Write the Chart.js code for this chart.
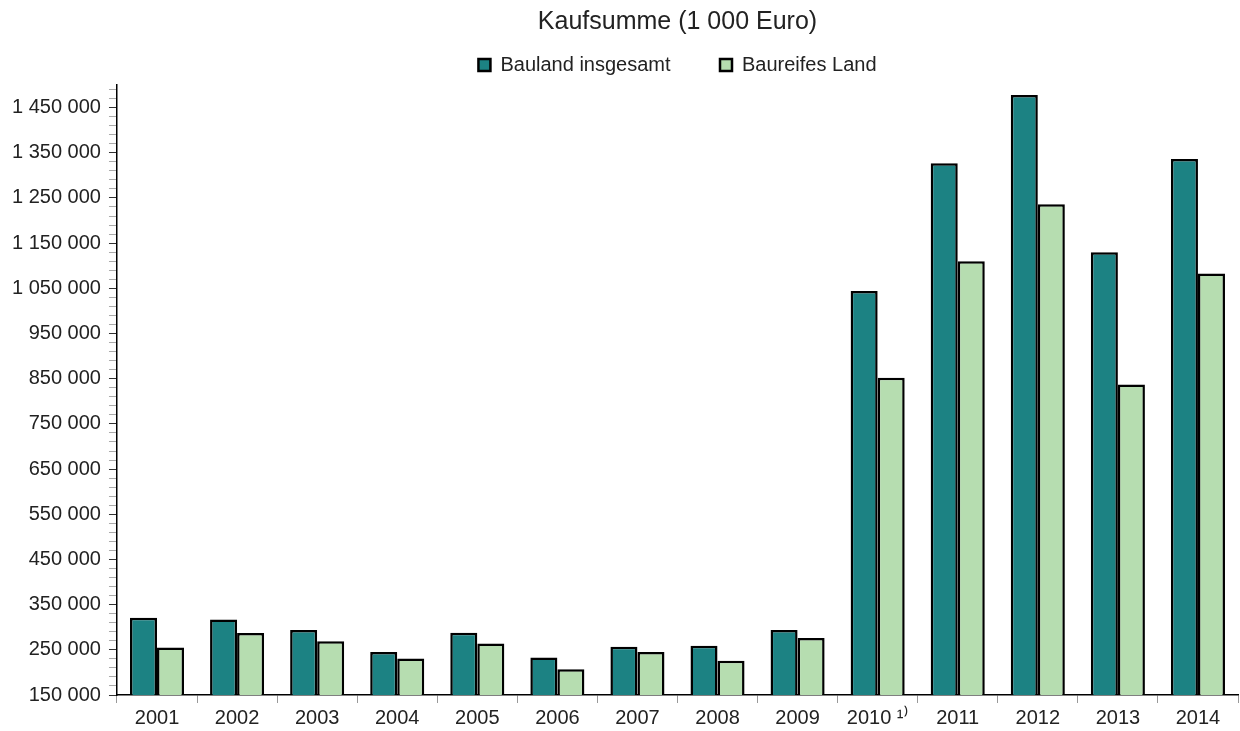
<!DOCTYPE html>
<html>
<head>
<meta charset="utf-8">
<script src="https://cdn.jsdelivr.net/npm/chart.js@4"></script>
<style>
  body { margin: 0; background: #fff; }
  #wrap { width: 1240px; height: 731px; position: relative; }
</style>
</head>
<body>
<div id="wrap"><canvas id="chart"></canvas></div>
<script>
// data (1 000 Euro)
const years = ["2001", "2002", "2003", "2004", "2005", "2006", "2007", "2008", "2009", "2010 \u00B9\u207E", "2011", "2012", "2013", "2014"];
const baulandInsgesamt = [321000, 317000, 294000, 245000, 288000, 233000, 257000, 259000, 294000, 1044000, 1327000, 1478000, 1130000, 1336000];
const baureifesLand = [255000, 287000, 269000, 231000, 264000, 207000, 245000, 226000, 276000, 852000, 1110000, 1236000, 837000, 1083000];
const yMin = 150000;
const yMax = 1500000;
const minorStep = 20000;
const majorStep = 100000;

const font = "'Liberation Sans', Arial, sans-serif";

// space between thousands, like "1 450 000"
function fmt(v) {
  return String(v).replace(/\B(?=(\d{3})+(?!\d))/g, " ");
}

function isMajor(v) {
  return (v - yMin) % majorStep === 0;
}

const data = {
  labels: years,
  datasets: [
    {
      label: "Bauland insgesamt",
      data: baulandInsgesamt,
      backgroundColor: "#1c8283",
      borderColor: "#000",
      borderWidth: 2.5,
      borderSkipped: false,
    },
    {
      label: "Baureifes Land",
      data: baureifesLand,
      backgroundColor: "#b6ddb0",
      borderColor: "#000",
      borderWidth: 2.5,
      borderSkipped: false,
    },
  ],
};

const chartConfig = {
  type: "bar",
  data: data,
  options: {
    responsive: true,
    maintainAspectRatio: false,
    animation: false,
    layout: { padding: { top: 0, right: 2, left: 4, bottom: -2 } },
    datasets: {
      bar: { categoryPercentage: 0.675, barPercentage: 1.0 },
    },
    plugins: {
      title: {
        display: true,
        text: "Kaufsumme (1 000 Euro)",
        color: "#222",
        fullSize: false,
        font: { family: font, size: 25, weight: "normal" },
        padding: { top: 7, bottom: 13 },
      },
      legend: {
        position: "top",
        fullSize: false,
        labels: {
          color: "#222",
          font: { family: font, size: 20 },
          boxWidth: 12,
          boxHeight: 12,
          padding: 5,
          // wider gap between the two entries
          generateLabels: function (chart) {
            let items = Chart.defaults.plugins.legend.labels.generateLabels(chart);
            items[0].text = items[0].text + "        ";
            return items;
          },
        },
      },
      tooltip: { enabled: false },
    },
    scales: {
      x: {
        grid: {
          drawOnChartArea: false,
          offset: true,
          tickLength: 8,
          tickColor: "#999",
        },
        border: { color: "#000", width: 1.5 },
        ticks: {
          color: "#222",
          font: { family: font, size: 20, lineHeight: 1 },
          padding: 5,
          maxRotation: 0,
        },
      },
      y: {
        min: yMin,
        max: yMax,
        afterBuildTicks: function (scale) {
          let t = [];
          for (let v = yMin; v <= yMax; v += minorStep) {
            t.push({ value: v });
          }
          scale.ticks = t;
        },
        grid: {
          drawOnChartArea: false,
          tickLength: 8,
          tickColor: function (ctx) {
            return ctx.tick && isMajor(ctx.tick.value) ? "#333" : "#aaa";
          },
        },
        border: { color: "#000", width: 1.5 },
        ticks: {
          autoSkip: false,
          color: "#222",
          font: { family: font, size: 20 },
          padding: 8,
          callback: function (value) {
            return isMajor(value) ? fmt(value) : "";
          },
        },
      },
    },
  },
};

new Chart(document.getElementById("chart"), chartConfig);
</script>
</body>
</html>
